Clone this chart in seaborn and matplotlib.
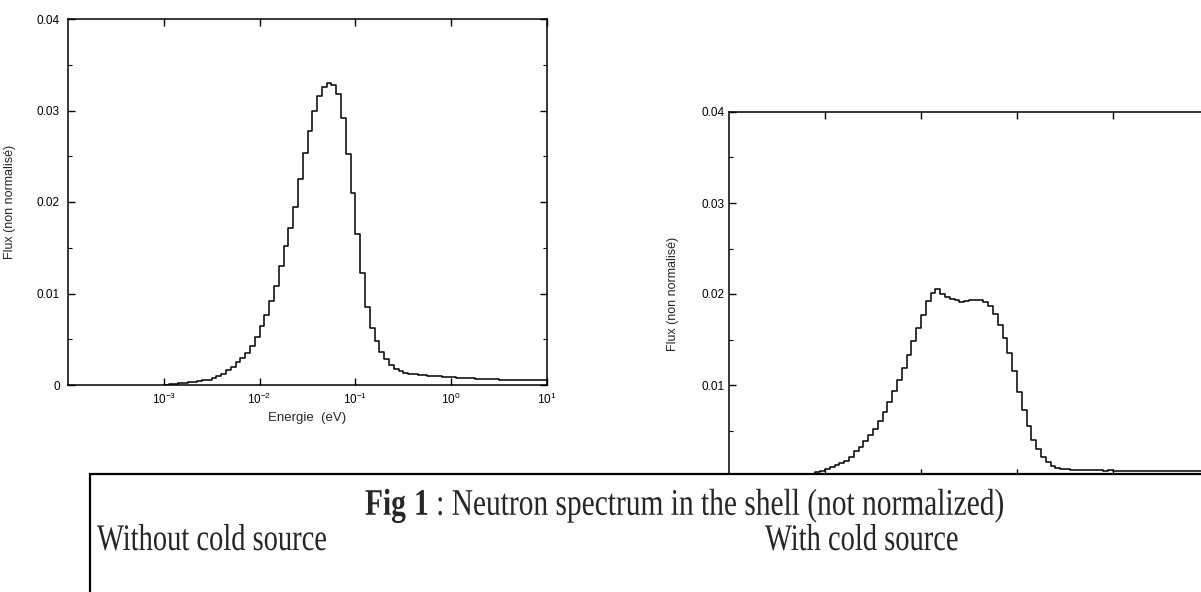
import numpy as np
import pandas as pd
import matplotlib
matplotlib.use("Agg")
import matplotlib.pyplot as plt
import seaborn as sns
from matplotlib.patches import Rectangle
from matplotlib.transforms import Affine2D
from matplotlib.patheffects import AbstractPathEffect
from matplotlib.ticker import FixedLocator, MultipleLocator, NullLocator, LogFormatterSciNotation, FuncFormatter, NullFormatter

# ---------------- data ----------------
BIN_WIDTH_DECADES = 0.05          # histogram bins: 20 per decade of energy
LEFT_LOG_E_START = -3.0           # first bin edge, log10(E / eV)
RIGHT_LOG_E_START = -3.5

# Flux per bin, without cold source (left panel), 1e-3 eV .. 10 eV
flux_without = [
    0.00005, 0.0001, 0.00015, 0.0002, 0.00025, 0.0003, 0.00035, 0.0004, 0.0005, 0.0006,
    0.0008, 0.0010, 0.0012, 0.0016, 0.0020, 0.0025, 0.0030, 0.0035, 0.0043, 0.0053,
    0.0065, 0.0077, 0.0092, 0.0108, 0.0130, 0.0152, 0.0172, 0.0195, 0.0225, 0.0254,
    0.0278, 0.0300, 0.0316, 0.0326, 0.0330, 0.0328, 0.0318, 0.0292, 0.0252, 0.0210,
    0.0165, 0.0122, 0.0085, 0.0062, 0.0048, 0.0036, 0.0028, 0.0022, 0.0018, 0.0015,
    0.0013, 0.0012, 0.0012, 0.0011, 0.0011, 0.0010, 0.0010, 0.0010, 0.0009, 0.0009,
    0.0009, 0.0008, 0.0008, 0.0008, 0.0008, 0.0007, 0.0007, 0.0007, 0.0007, 0.0007,
    0.0006, 0.0006, 0.0006, 0.0006, 0.0006, 0.0006, 0.0006, 0.00055, 0.00055, 0.00055,
]

# Flux per bin, with cold source (right panel), 10^-3.5 eV .. 10 eV
flux_with = [
    0.00002, 0.00003, 0.00005, 0.00008, 0.0001, 0.00013, 0.00017, 0.0002, 0.0004, 0.0006,
    0.0008, 0.0010, 0.0012, 0.0014, 0.0017, 0.0021, 0.0027, 0.0032, 0.0038, 0.0045,
    0.0052, 0.0060, 0.0070, 0.0081, 0.0093, 0.0106, 0.0119, 0.0133, 0.0148, 0.0163,
    0.0177, 0.0192, 0.0201, 0.0206, 0.0200, 0.0197, 0.0195, 0.0193, 0.0191, 0.0192,
    0.0193, 0.0193, 0.0193, 0.0191, 0.0187, 0.0178, 0.0166, 0.0152, 0.0135, 0.0115,
    0.0092, 0.0072, 0.0055, 0.0040, 0.0030, 0.0021, 0.0015, 0.0011, 0.0009, 0.0008,
    0.0008, 0.0007, 0.0007, 0.0007, 0.0007, 0.0007, 0.0007, 0.0007, 0.0006, 0.0007,
    0.0006, 0.0006, 0.0006, 0.0006, 0.0006, 0.0006, 0.0006, 0.0005, 0.0006, 0.0005,
    0.0005, 0.0005, 0.0005, 0.0005, 0.0005, 0.0005, 0.0005, 0.0005, 0.0005, 0.0005,
]

x_tick_values = [1e-3, 1e-2, 1e-1, 1e0, 1e1]
y_label = "Flux (non normalisé)"
x_label = "Energie  (eV)"
caption_line1 = r"$\mathbf{Fig\ 1}$ : Neutron spectrum in the shell (not normalized)"
sub_left = "Without cold source"
sub_right = "With cold source"

# ---------------- style ----------------
sns.set_theme(style="ticks")
plt.rcParams["font.family"] = ["Liberation Sans", "DejaVu Sans"]
plt.rcParams["mathtext.fontset"] = "custom"
plt.rcParams["mathtext.rm"] = "Liberation Sans"
plt.rcParams["mathtext.it"] = "Liberation Sans:italic"
plt.rcParams["mathtext.bf"] = "Liberation Serif:bold"

W, H = 1201, 592
fig = plt.figure(figsize=(W / 100, H / 100), dpi=100)
fig.patch.set_facecolor("white")


def px_axes(x0, y0, x1, y1):
    return fig.add_axes([x0 / W, 1 - y1 / H, (x1 - x0) / W, (y1 - y0) / H])


ax_l = px_axes(68, 19, 547, 385)
ax_r = px_axes(729, 112, 1209, 476)


def step_frame(log_start, vals):
    n = len(vals)
    edges = 10 ** (log_start + BIN_WIDTH_DECADES * np.arange(n + 1))
    y = np.append(np.asarray(vals, dtype=float), vals[-1])
    return pd.DataFrame({"E": edges, "flux": y})


df_l = step_frame(LEFT_LOG_E_START, flux_without)
df_r = step_frame(RIGHT_LOG_E_START, flux_with)

for ax, df, lab_x in ((ax_l, df_l, -0.109), (ax_r, df_r, -0.104)):
    sns.lineplot(data=df, x="E", y="flux", ax=ax, estimator=None, sort=False,
                 drawstyle="steps-post", color="black", linewidth=1.1)
    ax.set_xscale("log")
    ax.set_xlim(1e-4, 10)
    ax.set_ylim(0, 0.04)
    ax.xaxis.set_major_locator(FixedLocator(x_tick_values))
    ax.xaxis.set_minor_locator(NullLocator())
    ax.xaxis.set_major_formatter(LogFormatterSciNotation())
    ax.yaxis.set_major_locator(MultipleLocator(0.01))
    ax.yaxis.set_minor_locator(MultipleLocator(0.005))
    ax.tick_params(which="both", direction="in", top=True, right=True, colors="black",
                   labelsize=8.5)
    ax.tick_params(which="major", length=5, width=1.0)
    ax.tick_params(which="minor", length=3, width=0.8)
    ax.tick_params(axis="x", pad=5)
    for s in ax.spines.values():
        s.set_linewidth(1.1)
        s.set_color("black")
    ax.set_ylabel(y_label, fontsize=9)
    ax.yaxis.set_label_coords(lab_x, 0.5)
    ax.grid(False)

# left panel: full labelling
ax_l.yaxis.set_major_formatter(FuncFormatter(lambda v, p: "0" if abs(v) < 1e-9 else f"{v:.2f}"))
ax_l.set_xlabel(x_label, fontsize=9.5)
ax_l.xaxis.set_label_coords(0.5, -0.075)
ax_l.tick_params(axis="y", pad=6)

# right panel: its bottom is hidden by the caption box in the reference
ax_r.yaxis.set_major_formatter(FuncFormatter(lambda v, p: "" if abs(v) < 1e-9 else f"{v:.2f}"))
ax_r.xaxis.set_major_formatter(NullFormatter())
ax_r.set_xlabel("")
ax_r.tick_params(axis="y", pad=3)


# ---------------- caption box ----------------
class Squeeze(AbstractPathEffect):
    """Narrow the glyphs horizontally (the scanned caption is condensed)."""

    def __init__(self, sx):
        super().__init__()
        self.sx = sx

    def draw_path(self, renderer, gc, tpath, affine, rgbFace=None):
        renderer.draw_path(gc, tpath, Affine2D().scale(self.sx, 1.0) + affine, rgbFace)


rect = Rectangle((90 / W, -0.2), 1.5, (1 - 474 / H) + 0.2, transform=fig.transFigure,
                 facecolor="white", edgecolor="black", linewidth=1.6, zorder=10,
                 clip_on=False)
fig.add_artist(rect)

serif = ["Liberation Serif", "DejaVu Serif"]
cap_size = 27
y1 = 1 - 515 / H
y2 = 1 - 550 / H
for x_px, y, s, sx in ((365, y1, caption_line1, 0.785), (97, y2, sub_left, 0.76),
                       (765, y2, sub_right, 0.76)):
    fig.text(x_px / W, y, s, fontsize=cap_size, family=serif, va="baseline", ha="left",
             zorder=11, path_effects=[Squeeze(sx)])

fig.savefig("out.png", dpi=100)
